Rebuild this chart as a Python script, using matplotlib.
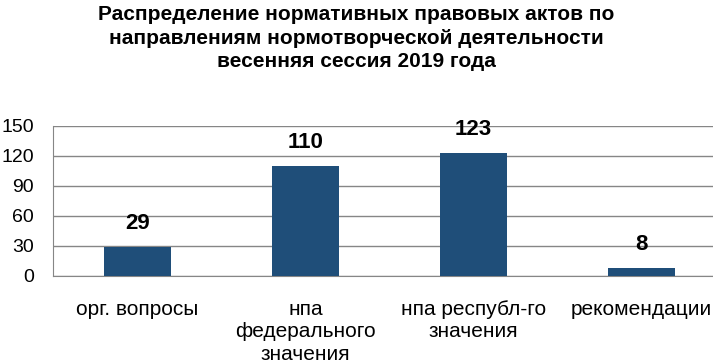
import matplotlib.pyplot as plt
import numpy as np

plt.rcParams['font.family'] = ['Liberation Sans', 'DejaVu Sans']

categories = ['орг. вопросы', 'нпа\nфедерального\nзначения',
              'нпа республ-го\nзначения', 'рекомендации']
values = [29, 110, 123, 8]
yticks = [0, 30, 60, 90, 120, 150]
title = ('Распределение нормативных правовых актов по\n'
         'направлениям нормотворческой деятельности\n'
         'весенняя сессия 2019 года')

fig = plt.figure(figsize=(7.13, 3.61), dpi=100)
ax = fig.add_axes([0.075, 0.2355, 0.9425, 0.4155])

x = np.arange(len(values))
bars = ax.bar(x, values, width=0.4, color='#1F4E79', zorder=3)

for b, v in zip(bars, values):
    ax.annotate(str(v), (b.get_x() + b.get_width() / 2, v),
                xytext=(0, 9), textcoords='offset points',
                ha='center', va='bottom', fontsize=16, fontweight='bold')

ax.set_xlim(-0.5, len(values) - 0.5)
ax.set_ylim(0, 150)
ax.set_yticks(yticks)
ax.set_xticks(x)
ax.set_xticklabels(categories, fontsize=15, linespacing=1.25)
ax.tick_params(axis='x', length=0, pad=17)
ax.tick_params(axis='y', length=0, pad=14, labelsize=14)
ax.grid(axis='y', color='#868686', linewidth=1, zorder=0)

for s in ['top', 'right']:
    ax.spines[s].set_visible(False)
ax.spines['left'].set_color('#868686')
ax.spines['bottom'].set_color('#868686')

fig.suptitle(title, fontsize=15, fontweight='bold', y=0.985, linespacing=1.3)

fig.savefig('out.png', dpi=100)
